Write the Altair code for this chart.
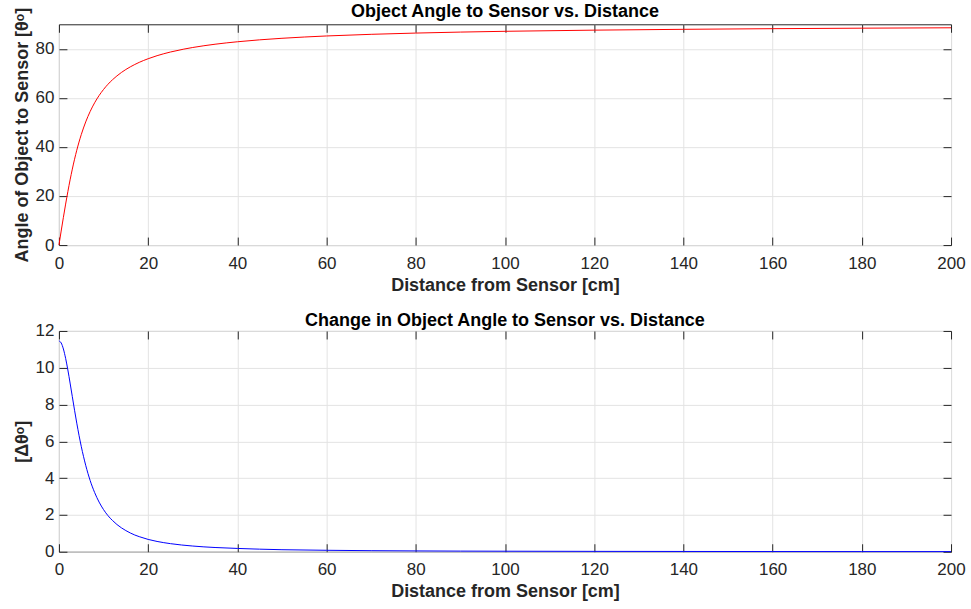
import altair as alt
import pandas as pd

# ---- data ----
dist_top = [0, 0.5, 1, 1.5, 2, 2.5, 3, 3.5, 4, 4.5, 5, 6, 7, 8, 9, 10, 11, 12, 13, 14, 15,
            16, 17, 18, 19, 20, 22, 25, 28, 30, 35, 40, 45, 50, 60, 70, 80, 90, 100,
            120, 140, 160, 180, 200]
angle_top = [0, 5.71, 11.31, 16.70, 21.80, 26.57, 30.96, 34.99, 38.66, 41.99, 45.00, 50.19,
             54.46, 57.99, 60.95, 63.43, 65.56, 67.38, 68.96, 70.35, 71.57, 72.65, 73.61,
             74.48, 75.26, 75.96, 77.20, 78.69, 79.88, 80.54, 81.87, 82.87, 83.66, 84.29,
             85.24, 85.91, 86.42, 86.82, 87.14, 87.61, 87.95, 88.21, 88.41, 88.57]

dist_bot = [0, 0.5, 1, 1.5, 2, 2.5, 3, 3.5, 4, 4.5, 5, 6, 7, 8, 9, 10, 11, 12, 13, 14, 15,
            16, 17, 18, 20, 22, 25, 30, 35, 40, 45, 50, 60, 70, 80, 90, 100, 120, 140,
            160, 180, 200]
delta_bot = [11.46, 11.35, 11.02, 10.51, 9.88, 9.17, 8.43, 7.69, 6.99, 6.33, 5.73, 4.70,
             3.87, 3.22, 2.70, 2.29, 1.96, 1.70, 1.48, 1.30, 1.15, 1.02, 0.91, 0.82, 0.67,
             0.56, 0.44, 0.31, 0.23, 0.18, 0.14, 0.11, 0.079, 0.058, 0.045, 0.035, 0.029,
             0.020, 0.015, 0.011, 0.0088, 0.0072]

x_ticks = [0, 20, 40, 60, 80, 100, 120, 140, 160, 180, 200]

FONT = "Liberation Sans"
TEXT = "#262626"
GRID = "#e3e3e3"
W, H = 893, 221
TICK = 8
LABEL_SIZE = 17
TITLE_SIZE = 18


def panel(df, color, ydomain, yticks, ytitle, title, title_offset):
    xs = alt.Scale(domain=[0, 200], nice=False, zero=False)
    ys = alt.Scale(domain=ydomain, nice=False, zero=False)
    line = alt.Chart(df).mark_line(color=color, strokeWidth=1, interpolate="monotone")
    ghost = alt.Chart(df).mark_line(color=color, strokeOpacity=0)

    common = dict(labelFont=FONT, labelFontSize=LABEL_SIZE, labelColor=TEXT,
                  titleFont=FONT, titleFontSize=TITLE_SIZE, titleFontWeight="bold",
                  titleColor=TEXT, domain=False)

    main = line.encode(
        x=alt.X("d:Q", scale=xs, axis=alt.Axis(
            values=x_ticks, title="Distance from Sensor [cm]", grid=True,
            gridColor=GRID, ticks=False, labelPadding=10, titlePadding=5,
            labelFlush=False, **common)),
        y=alt.Y("v:Q", scale=ys, axis=alt.Axis(
            values=yticks, title=ytitle, grid=True, gridColor=GRID,
            ticks=False, labelPadding=5, titlePadding=4, **common)),
    )
    inner_bl = ghost.encode(
        x=alt.X("d:Q", scale=xs, axis=alt.Axis(
            values=x_ticks, orient="bottom", offset=-TICK, tickSize=TICK,
            tickColor=TEXT, labels=False, title=None, grid=False, domain=False)),
        y=alt.Y("v:Q", scale=ys, axis=alt.Axis(
            values=yticks, orient="left", offset=-TICK, tickSize=TICK,
            tickColor=TEXT, labels=False, title=None, grid=False, domain=False)),
    )
    inner_tr = ghost.encode(
        x=alt.X("d:Q", scale=xs, axis=alt.Axis(
            values=x_ticks, orient="top", offset=-TICK, tickSize=TICK,
            tickColor=TEXT, labels=False, title=None, grid=False, domain=False)),
        y=alt.Y("v:Q", scale=ys, axis=alt.Axis(
            values=yticks, orient="right", offset=-TICK, tickSize=TICK,
            tickColor=TEXT, labels=False, title=None, grid=False, domain=False)),
    )
    return alt.layer(main, inner_bl, inner_tr).resolve_axis(
        x="independent", y="independent"
    ).properties(
        width=W, height=H,
        title=alt.TitleParams(title, font=FONT, fontSize=TITLE_SIZE, fontWeight="bold",
                              color="black", offset=title_offset, anchor="middle"),
    )


df_top = pd.DataFrame({"d": dist_top, "v": angle_top})
df_bot = pd.DataFrame({"d": dist_bot, "v": delta_bot})

top = panel(df_top, "#ff0000", [0, 90], [0, 20, 40, 60, 80],
            "Angle of Object to Sensor [θᵒ]", "Object Angle to Sensor vs. Distance", -14)
bot = panel(df_bot, "#0000ff", [0, 12], [0, 2, 4, 6, 8, 10, 12],
            "[Δθᵒ]", "Change in Object Angle to Sensor vs. Distance", -8)

chart = alt.vconcat(top, bot, spacing=16).properties(
    padding={"left": 12, "top": 2, "right": 5, "bottom": 0},
    background="white",
).configure_view(stroke=TEXT, strokeWidth=1)

chart.save("out.html", embed_options={"renderer": "svg", "actions": False})
